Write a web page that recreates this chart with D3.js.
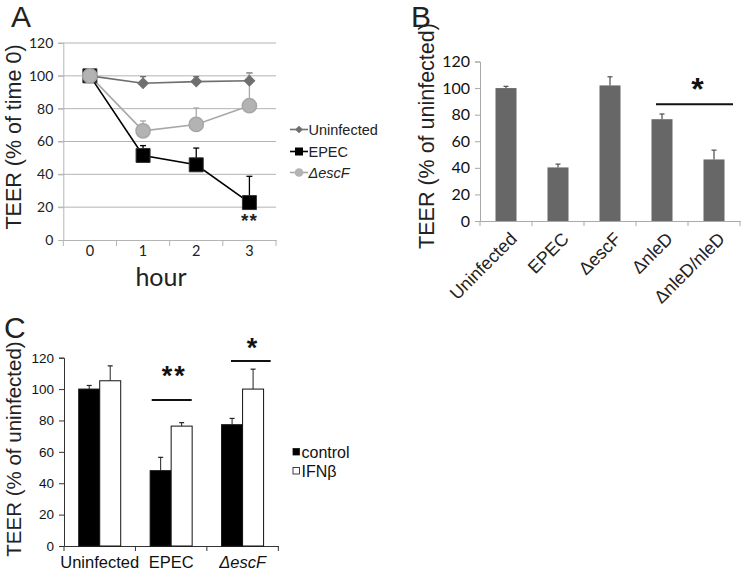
<!DOCTYPE html>
<html><head><meta charset="utf-8">
<script src="https://cdn.jsdelivr.net/npm/d3@7/dist/d3.min.js"></script>
<style>body{margin:0;background:#fff}svg{display:block}</style>
</head><body>
<svg id="c" width="742" height="571"></svg>
<script>
// ---------- DATA ----------
// Panel A (time course)
const hoursA = ["0","1","2","3"];
const uninfA = [100, 95.5, 96.5, 97];
const uninfAErr = [100, 99.5, 99.5, 101.8];
const epecA = [100, 51.5, 45.8, 22.8];
const epecAErr = [100, 57.5, 56, 38.8];
const escFA = [100, 66.5, 70.4, 81.8];
const escFAErr = [100, 72.5, 80.4, 101.6];
const ticksA = [0,20,40,60,80,100,120];
// Panel B
const catsB = ["Uninfected","EPEC","ΔescF","ΔnleD","ΔnleD/nleD"];
const valsB = [100, 40.3, 102, 76.6, 46.3];
const errB = [101.3, 42.8, 108.5, 80.5, 53.3];
// Panel C
const catsC = ["Uninfected","EPEC","ΔescF"];
const seriesC = ["control","IFNβ"];
const controlC = [100, 48, 77.3];
const controlCErr = [102.3, 56.5, 81.3];
const ifnC = [105.3, 76.4, 100];
const ifnCErr = [114.8, 78.6, 112.7];

const svg = d3.select("#c");
const ARIAL = "'Liberation Sans', Arial, sans-serif";
const CAL = "Lato, 'Liberation Sans', sans-serif";

// ---------- PANEL A ----------
(function(){
  const g = svg.append("g");
  const x = d3.scaleBand().domain(hoursA).range([63.3, 276]);
  const y = d3.scaleLinear().domain([0,120]).range([240, 43]);
  const cx = d => x(d) + x.bandwidth()/2;
  g.selectAll(".grid").data(ticksA.slice(1)).join("line")
    .attr("x1", 58).attr("x2", 276).attr("y1", d=>y(d)).attr("y2", d=>y(d))
    .attr("stroke", "#b4b4b4").attr("stroke-width", 1);
  const ya = d3.axisLeft(y).tickValues(ticksA).tickSize(5).tickPadding(5);
  const yg = g.append("g").attr("transform","translate(63.3,0)").call(ya);
  yg.select(".domain").attr("stroke","#b4b4b4");
  yg.selectAll(".tick line").attr("stroke","#b4b4b4");
  yg.selectAll("text").attr("font-family",CAL).attr("font-size",14).attr("fill","#222");
  const xa = d3.axisBottom(x).tickSize(0).tickPadding(6);
  const xg = g.append("g").attr("transform","translate(0,240)").call(xa);
  xg.select(".domain").attr("stroke","#b4b4b4");
  xg.selectAll("text").attr("font-family",CAL).attr("font-size",14.5).attr("fill","#222");
  const bounds = hoursA.map(h=>x(h)).concat([276]);
  g.selectAll(".xt").data(bounds).join("line")
    .attr("x1",d=>d).attr("x2",d=>d).attr("y1",240).attr("y2",246)
    .attr("stroke","#b4b4b4");
  g.append("text").attr("transform","translate(21,137) rotate(-90)")
    .attr("text-anchor","middle").attr("font-family",ARIAL).attr("font-size",21.5)
    .attr("fill","#222").text("TEER (% of time 0)");
  g.append("text").attr("x",161).attr("y",286).attr("text-anchor","middle")
    .attr("font-family",CAL).attr("font-size",25).attr("fill","#222").text("hour");
  g.append("text").attr("x",11).attr("y",27).attr("font-family",ARIAL)
    .attr("font-size",30).attr("fill","#222").text("A");

  const series = [
    {name:"EPEC", vals:epecA, err:epecAErr, color:"#000", line:"#000", shape:"square"},
    {name:"Uninfected", vals:uninfA, err:uninfAErr, color:"#6f6f6f", line:"#6f6f6f", shape:"diamond"},
    {name:"ΔescF", vals:escFA, err:escFAErr, color:"#b3b3b3", line:"#a8a8a8", shape:"circle"}
  ];
  const line = d3.line().x((d,i)=>cx(hoursA[i])).y(d=>y(d));
  series.forEach(s=>{
    s.vals.forEach((v,i)=>{
      if (s.err[i] <= v) return;
      const px = cx(hoursA[i]);
      g.append("line").attr("x1",px).attr("x2",px).attr("y1",y(v)).attr("y2",y(s.err[i]))
        .attr("stroke",s.line).attr("stroke-width",1.3);
      g.append("line").attr("x1",px-3).attr("x2",px+3).attr("y1",y(s.err[i])).attr("y2",y(s.err[i]))
        .attr("stroke",s.line).attr("stroke-width",1.3);
    });
  });
  series.forEach(s=>{
    g.append("path").attr("d",line(s.vals)).attr("fill","none")
      .attr("stroke",s.line).attr("stroke-width",1.6);
  });
  const sym = {
    square: d3.symbol().type(d3.symbolSquare).size(196),
    diamond: d3.symbol().type(d3.symbolSquare).size(72),
    circle: d3.symbol().type(d3.symbolCircle).size(160)
  };
  series.forEach(s=>{
    s.vals.forEach((v,i)=>{
      const p = g.append("path").attr("d",sym[s.shape]())
        .attr("transform",`translate(${cx(hoursA[i])},${y(v)})` + (s.shape==="diamond"?" rotate(45)":""))
        .attr("fill",s.color);
      if (s.shape==="square") p.attr("stroke","#333").attr("stroke-width",1).attr("stroke-linejoin","round");
      if (s.shape==="circle") p.attr("stroke","#a6a6a6").attr("stroke-width",1.5);
    });
  });
  g.append("text").attr("x",cx("3")).attr("y",227).attr("text-anchor","middle")
    .attr("font-family",ARIAL).attr("font-size",19).attr("font-weight","bold")
    .attr("letter-spacing",1).attr("fill","#222").text("**");
  const leg = g.append("g");
  const ly = [129.5, 151.5, 172.5];
  const legOrder = [series[1], series[0], series[2]];
  legOrder.forEach((s,i)=>{
    leg.append("line").attr("x1",290).attr("x2",308).attr("y1",ly[i]).attr("y2",ly[i])
      .attr("stroke",s.line).attr("stroke-width",1.6);
    const sz = s.shape==="square"?64:(s.shape==="diamond"?30:60);
    leg.append("path").attr("d",d3.symbol().type(s.shape==="circle"?d3.symbolCircle:d3.symbolSquare).size(sz)())
      .attr("transform",`translate(299,${ly[i]})`+(s.shape==="diamond"?" rotate(45)":""))
      .attr("fill",s.color);
    leg.append("text").attr("x",308.5).attr("y",ly[i]+5).attr("font-family",ARIAL)
      .attr("font-size",14.5).attr("fill","#222")
      .attr("font-style", s.name==="ΔescF"?"italic":"normal").text(s.name);
  });
})();

// ---------- PANEL B ----------
(function(){
  const g = svg.append("g");
  const x = d3.scaleBand().domain(catsB).range([480, 740]);
  const y = d3.scaleLinear().domain([0,120]).range([221, 61.5]);
  const bw = 21;
  const ya = d3.axisLeft(y).tickValues(ticksA).tickSize(5).tickPadding(5);
  const yg = g.append("g").attr("transform","translate(480,0)").call(ya);
  yg.select(".domain").attr("stroke","#a8a8a8");
  yg.selectAll(".tick line").attr("stroke","#a8a8a8");
  yg.selectAll("text").attr("font-family",CAL).attr("font-size",16).attr("fill","#111");
  const xg = g.append("g").attr("transform","translate(0,221)").call(d3.axisBottom(x).tickSize(0).tickFormat(""));
  xg.select(".domain").attr("stroke","#a8a8a8");
  const bounds = catsB.map(c=>x(c)).concat([740]);
  g.selectAll(".xt").data(bounds).join("line")
    .attr("x1",d=>d).attr("x2",d=>d).attr("y1",221).attr("y2",226).attr("stroke","#a8a8a8");
  g.selectAll(".bar").data(catsB).join("rect")
    .attr("x",c=>x(c)+x.bandwidth()/2-bw/2).attr("width",bw)
    .attr("y",(c,i)=>y(valsB[i])).attr("height",(c,i)=>221-y(valsB[i]))
    .attr("fill","#676767");
  catsB.forEach((c,i)=>{
    const px = x(c)+x.bandwidth()/2;
    g.append("line").attr("x1",px).attr("x2",px).attr("y1",y(valsB[i])).attr("y2",y(errB[i]))
      .attr("stroke","#5a5a5a").attr("stroke-width",1.3);
    g.append("line").attr("x1",px-2.5).attr("x2",px+2.5).attr("y1",y(errB[i])).attr("y2",y(errB[i]))
      .attr("stroke","#5a5a5a").attr("stroke-width",1.3);
  });
  catsB.forEach((c,i)=>{
    const px = x(c)+x.bandwidth()/2;
    g.append("text").attr("transform",`translate(${px+12},${240}) rotate(-45)`)
      .attr("text-anchor","end").attr("font-family",ARIAL).attr("font-size",18)
      .attr("fill","#222").text(c);
  });
  g.append("text").attr("transform","translate(434,136) rotate(-90)")
    .attr("text-anchor","middle").attr("font-family",ARIAL).attr("font-size",21.5)
    .attr("fill","#222").text("TEER (% of uninfected)");
  g.append("text").attr("x",411).attr("y",27).attr("font-family",ARIAL)
    .attr("font-size",30).attr("fill","#222").text("B");
  g.append("line").attr("x1",x("ΔnleD")+x.bandwidth()/2-6).attr("x2",733)
    .attr("y1",104.3).attr("y2",104.3).attr("stroke","#111").attr("stroke-width",2);
  g.append("text").attr("x",697.5).attr("y",100).attr("text-anchor","middle")
    .attr("font-family",ARIAL).attr("font-size",32).attr("font-weight","bold")
    .attr("fill","#111").text("*");
})();

// ---------- PANEL C ----------
(function(){
  const g = svg.append("g");
  const x = d3.scaleBand().domain(catsC).range([64, 278.3]);
  const xs = d3.scaleBand().domain(seriesC).range([0, 42]);
  const y = d3.scaleLinear().domain([0,120]).range([546, 357.7]);
  const ya = d3.axisLeft(y).tickValues(ticksA).tickSize(5).tickPadding(5);
  const yg = g.append("g").attr("transform","translate(64,0)").call(ya);
  yg.select(".domain").attr("stroke","#333");
  yg.selectAll(".tick line").attr("stroke","#333");
  yg.selectAll("text").attr("font-family",ARIAL).attr("font-size",13.5).attr("fill","#111");
  const xg = g.append("g").attr("transform","translate(0,546)").call(d3.axisBottom(x).tickSize(0).tickPadding(10));
  xg.select(".domain").attr("stroke","#333");
  xg.selectAll("text").attr("font-family",ARIAL).attr("font-size",16.5).attr("fill","#111")
    .attr("font-style",(d)=>d==="ΔescF"?"italic":"normal");
  const bounds = catsC.map(c=>x(c)).concat([278.3]);
  g.selectAll(".xt").data(bounds).join("line")
    .attr("x1",d=>d).attr("x2",d=>d).attr("y1",546).attr("y2",551).attr("stroke","#333");
  const data = [
    {s:"control", vals:controlC, err:controlCErr, fill:"#000"},
    {s:"IFNβ", vals:ifnC, err:ifnCErr, fill:"#fff"}
  ];
  data.forEach(d=>{
    catsC.forEach((c,i)=>{
      const bx = x(c)+x.bandwidth()/2-21+xs(d.s);
      const px = bx + xs.bandwidth()/2;
      g.append("line").attr("x1",px).attr("x2",px).attr("y1",y(d.vals[i])).attr("y2",y(d.err[i]))
        .attr("stroke","#222").attr("stroke-width",1);
      g.append("line").attr("x1",px-2.5).attr("x2",px+2.5).attr("y1",y(d.err[i])).attr("y2",y(d.err[i]))
        .attr("stroke","#222").attr("stroke-width",1.2);
      g.append("rect").attr("x",bx).attr("width",xs.bandwidth())
        .attr("y",y(d.vals[i])).attr("height",546-y(d.vals[i]))
        .attr("fill",d.fill).attr("stroke","#111").attr("stroke-width",1);
    });
  });
  g.append("text").attr("transform","translate(21,449) rotate(-90)")
    .attr("text-anchor","middle").attr("font-family",ARIAL).attr("font-size",20.5)
    .attr("fill","#222").text("TEER (% of uninfected)");
  g.append("text").attr("x",4).attr("y",338).attr("font-family",ARIAL)
    .attr("font-size",30).attr("fill","#222").text("C");
  g.append("line").attr("x1",151.7).attr("x2",191.7).attr("y1",400).attr("y2",400)
    .attr("stroke","#111").attr("stroke-width",2);
  g.append("text").attr("x",x("EPEC")+x.bandwidth()/2+3).attr("y",385).attr("text-anchor","middle")
    .attr("font-family",ARIAL).attr("font-size",27).attr("font-weight","bold")
    .attr("letter-spacing",2).attr("fill","#111").text("**");
  g.append("line").attr("x1",231).attr("x2",270.7).attr("y1",361).attr("y2",361)
    .attr("stroke","#111").attr("stroke-width",2);
  g.append("text").attr("x",252).attr("y",357).attr("text-anchor","middle")
    .attr("font-family",ARIAL).attr("font-size",27).attr("font-weight","bold")
    .attr("fill","#111").text("*");
  const ly = [452, 471];
  data.forEach((d,i)=>{
    g.append("rect").attr("x",293).attr("y",ly[i]-3.5).attr("width",6.5).attr("height",6.5)
      .attr("fill",d.fill).attr("stroke","#111").attr("stroke-width",0.8);
    g.append("text").attr("x",301.5).attr("y",ly[i]+5.5).attr("font-family",ARIAL)
      .attr("font-size",16).attr("fill","#111").text(d.s);
  });
})();
</script>
</body></html>
